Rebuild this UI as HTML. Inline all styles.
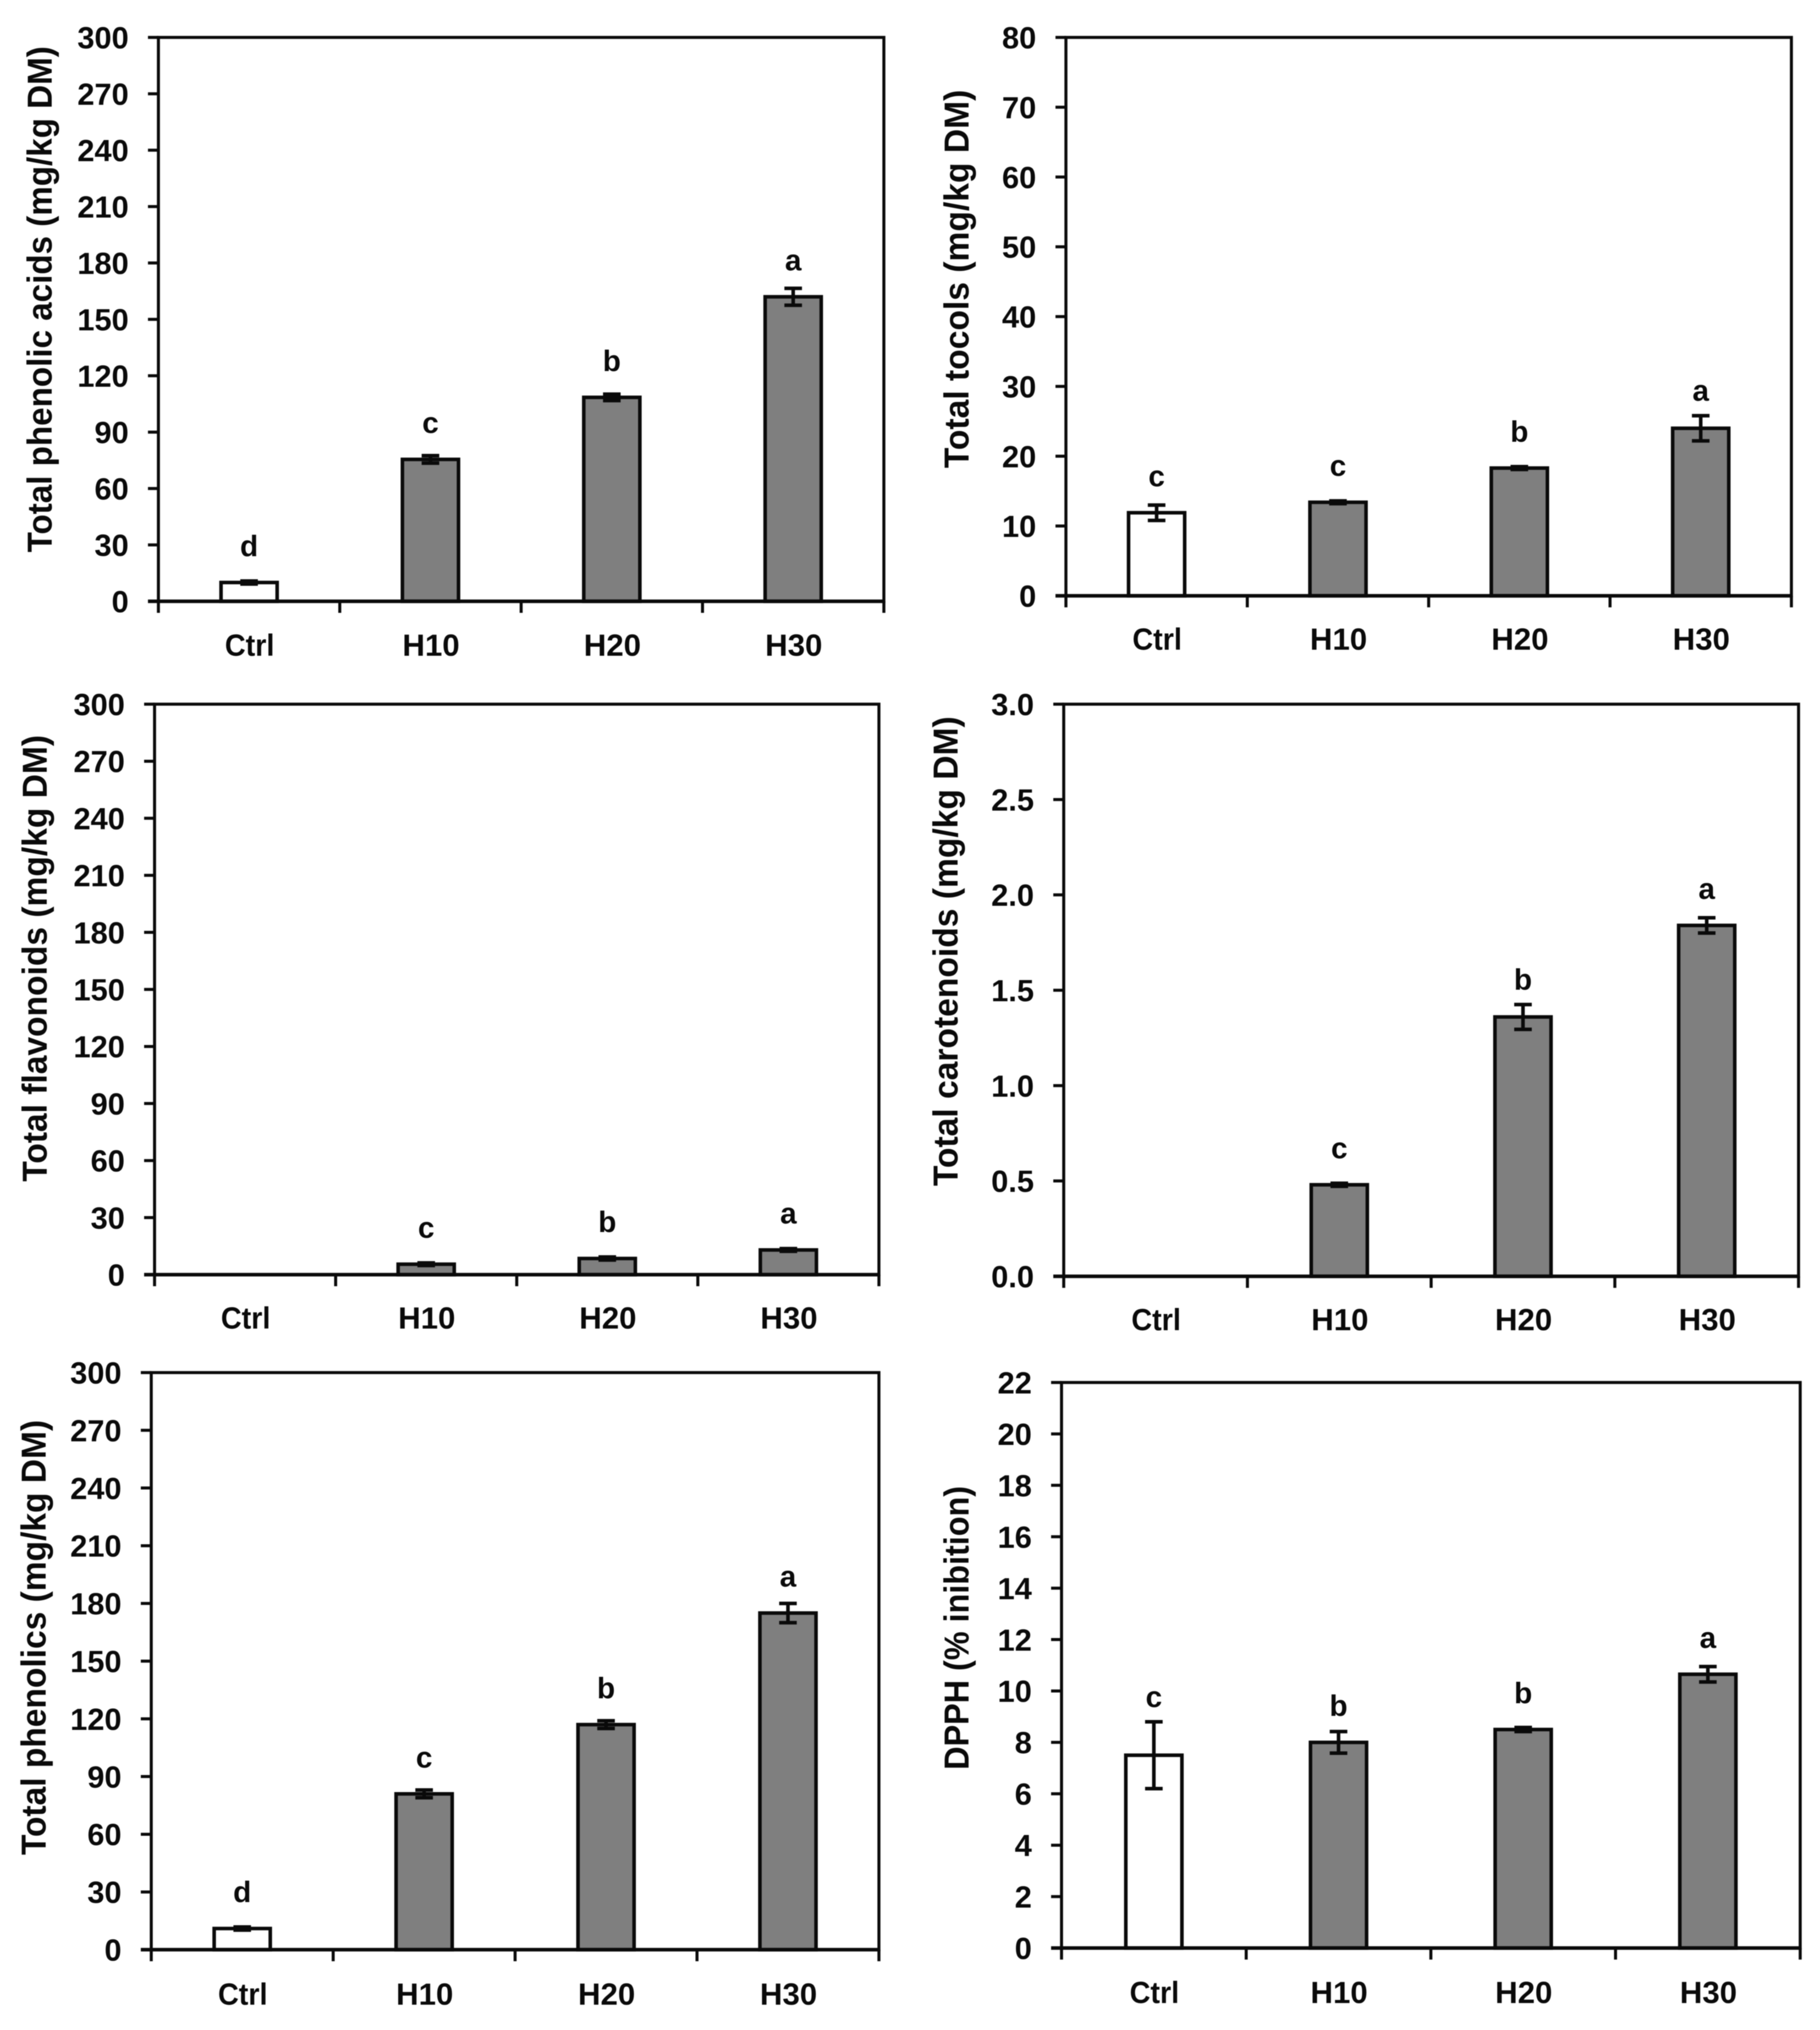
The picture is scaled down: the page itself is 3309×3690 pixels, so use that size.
<!DOCTYPE html>
<html lang="en">
<head>
<meta charset="utf-8">
<title>Antioxidant compounds bar charts</title>
<style>
html,body{margin:0;padding:0;background:#fff;}
svg{display:block;filter:blur(0.8px);}
text{font-family:"Liberation Sans",sans-serif;font-weight:bold;fill:#0a0a0a;}
</style>
</head>
<body>
<svg id="figure" xmlns="http://www.w3.org/2000/svg" width="3309" height="3690" viewBox="0 0 3309 3690"></svg>
<script>
const categories = ['Ctrl', 'H10', 'H20', 'H30'];

const ticks300 = ['0', '30', '60', '90', '120', '150', '180', '210', '240', '270', '300'];
const ticksTocols = ['0', '10', '20', '30', '40', '50', '60', '70', '80'];
const ticksCarotenoids = ['0.0', '0.5', '1.0', '1.5', '2.0', '2.5', '3.0'];
const ticksDpph = ['0', '2', '4', '6', '8', '10', '12', '14', '16', '18', '20', '22'];

const phenolicAcids = [10, 75.5, 108.5, 162];
const phenolicAcidsErr = [0.8, 2, 1.7, 4.5];
const phenolicAcidsLetters = ['d', 'c', 'b', 'a'];

const tocols = [11.9, 13.4, 18.3, 24];
const tocolsErr = [1.1, 0.2, 0.2, 1.8];
const tocolsLetters = ['c', 'c', 'b', 'a'];

const flavonoids = [0, 5.5, 8.5, 13];
const flavonoidsErr = [0, 0.7, 0.8, 0.7];
const flavonoidsLetters = ['', 'c', 'b', 'a'];

const carotenoids = [0, 0.48, 1.36, 1.84];
const carotenoidsErr = [0, 0.008, 0.065, 0.04];
const carotenoidsLetters = ['', 'c', 'b', 'a'];

const phenolics = [11, 81, 117, 175];
const phenolicsErr = [0.8, 2, 2, 5];
const phenolicsLetters = ['d', 'c', 'b', 'a'];

const dpph = [7.5, 8, 8.5, 10.65];
const dpphErr = [1.3, 0.42, 0.08, 0.3];
const dpphLetters = ['c', 'b', 'b', 'a'];

const panels = [
  {id:'phenolic-acids', title:'Total phenolic acids (mg/kg DM)', l:288, r:1607, t:68, b:1093, titleX:94, titleTop:84, titleBottom:1004, catY:1172, ticks:ticks300, vals:phenolicAcids, errs:phenolicAcidsErr, letters:phenolicAcidsLetters},
  {id:'tocols', title:'Total tocols (mg/kg DM)', l:1938, r:3257, t:68, b:1083, titleX:1761, titleTop:163, titleBottom:851, catY:1161, ticks:ticksTocols, vals:tocols, errs:tocolsErr, letters:tocolsLetters},
  {id:'flavonoids', title:'Total flavonoids (mg/kg DM)', l:281, r:1598, t:1280, b:2317, titleX:85, titleTop:1336, titleBottom:2148, catY:2395, ticks:ticks300, vals:flavonoids, errs:flavonoidsErr, letters:flavonoidsLetters},
  {id:'carotenoids', title:'Total carotenoids (mg/kg DM)', l:1934, r:3270, t:1280, b:2320, titleX:1741, titleTop:1302, titleBottom:2156, catY:2398, ticks:ticksCarotenoids, vals:carotenoids, errs:carotenoidsErr, letters:carotenoidsLetters},
  {id:'phenolics', title:'Total phenolics (mg/kg DM)', l:275, r:1598, t:2495, b:3544, titleX:83, titleTop:2581, titleBottom:3372, catY:3624, ticks:ticks300, vals:phenolics, errs:phenolicsErr, letters:phenolicsLetters},
  {id:'dpph', title:'DPPH (% inibition)', l:1930, r:3273, t:2513, b:3541, titleX:1761, titleTop:2701, titleBottom:3217, catY:3621, ticks:ticksDpph, vals:dpph, errs:dpphErr, letters:dpphLetters}
];

const NS = 'http://www.w3.org/2000/svg';
const svg = document.getElementById('figure');

function make(parent, tag, attrs) {
  const el = document.createElementNS(NS, tag);
  for (const k in attrs) el.setAttribute(k, attrs[k]);
  parent.appendChild(el);
  return el;
}

panels.forEach(function (p) {
  const g = make(svg, 'g', {});
  
  

  const yMax = parseFloat(p.ticks[p.ticks.length - 1]);
  const yScale = function (v) { return p.b - (v / yMax) * (p.b - p.t); };
  const band = (p.r - p.l) / categories.length;
  const xScale = function (i) { return p.l + (i + 0.5) * band; };

  const frame = make(g, 'rect', {x:p.l, y:p.t, width:p.r - p.l, height:p.b - p.t, fill:'#fff', stroke:'#0a0a0a', 'stroke-width':5.5});
  
  

  p.ticks.forEach(function (label) {
    const v = parseFloat(label);
    const y = yScale(v);
    const tick = make(g, 'line', {x1:p.l - 19, x2:p.l, y1:y, y2:y, stroke:'#0a0a0a', 'stroke-width':5.5});
    
    
    const t = make(g, 'text', {x:p.l - 54, y:y + 20, 'text-anchor':'end', 'font-size':56});
    t.textContent = label;
    
    
  });

  for (let i = 0; i <= categories.length; i++) {
    const x = p.l + i * band;
    const tick = make(g, 'line', {x1:x, x2:x, y1:p.b, y2:p.b + 21, stroke:'#0a0a0a', 'stroke-width':5.5});
    
    
  }

  categories.forEach(function (cat, i) {
    const cx = xScale(i);
    const val = p.vals[i];
    const err = p.errs[i];
    if (val > 0) {
      const top = yScale(val);
      const bar = make(g, 'rect', {x:cx - 51, y:top, width:102, height:p.b - top, fill:i === 0 ? '#ffffff' : '#7f7f7f', stroke:'#0a0a0a', 'stroke-width':6.5});
      
      

      const eTop = yScale(val + err);
      const eBot = yScale(val - err);
      const eb = make(g, 'path', {d:'M' + (cx - 16) + ' ' + eTop + 'H' + (cx + 16) + 'M' + cx + ' ' + eTop + 'V' + eBot + 'M' + (cx - 16) + ' ' + eBot + 'H' + (cx + 16), fill:'none', stroke:'#0a0a0a', 'stroke-width':6.5});
      
      

      if (p.letters[i]) {
        const cy = Math.min(top - 61, eTop - 40);
        const letter = make(g, 'text', {x:cx, y:cy + 13, 'text-anchor':'middle', 'font-size':54});
        letter.textContent = p.letters[i];
        
        
      }
    }
    const lab = make(g, 'text', {x:cx + 1, y:p.catY + 20, 'text-anchor':'middle', 'font-size':56, textLength:cat === 'Ctrl' ? 90 : 104, lengthAdjust:'spacingAndGlyphs'});
    lab.textContent = cat;
    
    
  });

  const base = make(g, 'line', {x1:p.l - 19, x2:p.r, y1:p.b, y2:p.b, stroke:'#0a0a0a', 'stroke-width':6.5});
  
  

  const midY = (p.titleTop + p.titleBottom) / 2;
  const title = make(g, 'text', {transform:'translate(' + p.titleX + ' ' + midY + ') rotate(-90)', 'text-anchor':'middle', 'font-size':63, textLength:p.titleBottom - p.titleTop, lengthAdjust:'spacingAndGlyphs'});
  title.textContent = p.title;
  
  
});
</script>
</body>
</html>
